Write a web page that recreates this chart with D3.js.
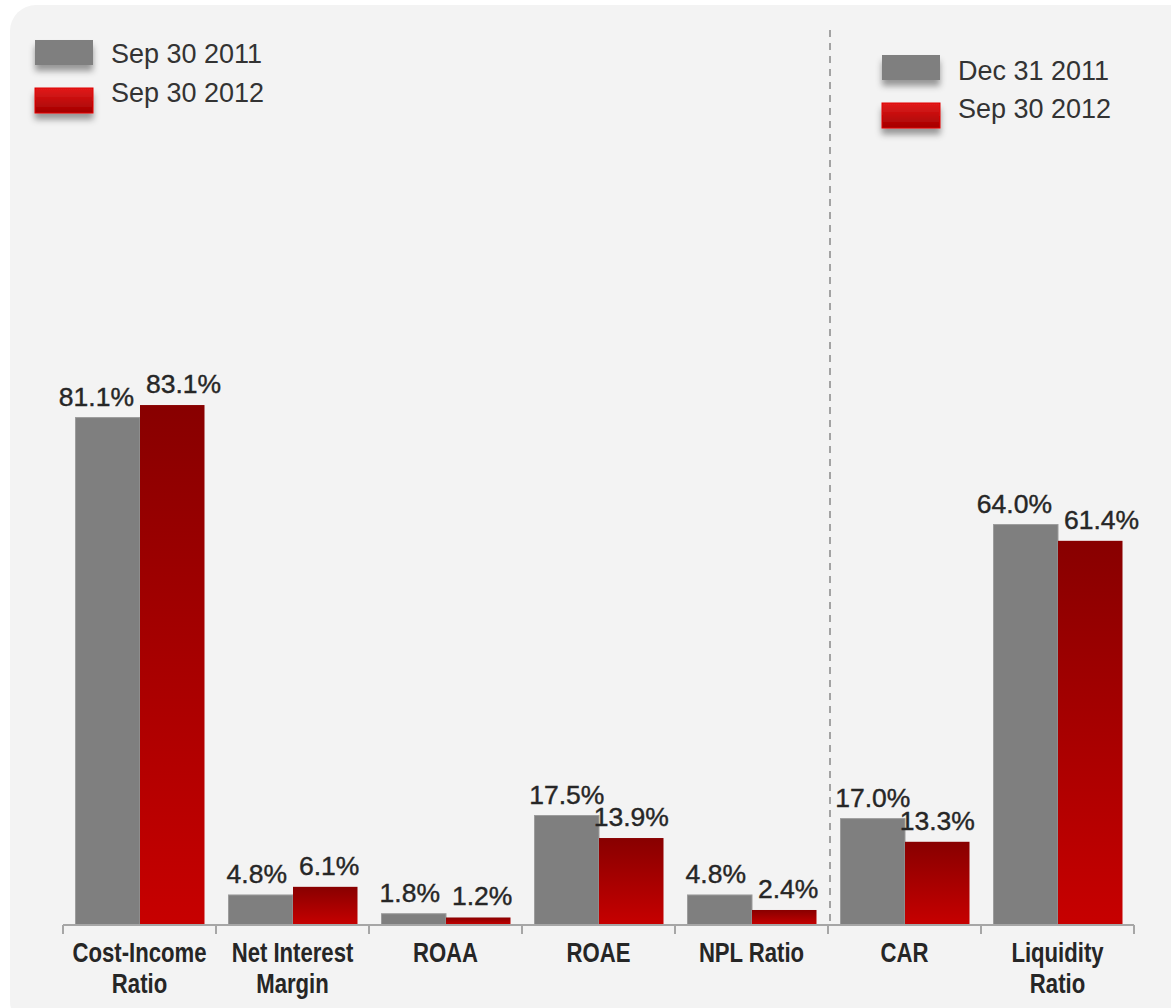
<!DOCTYPE html>
<html>
<head>
<meta charset="utf-8">
<script src="https://cdn.jsdelivr.net/npm/d3@7"></script>
<style>
  html, body { margin: 0; padding: 0; background: #ffffff; }
  svg { display: block; }
</style>
</head>
<body>
<svg id="chart" width="1171" height="1008"></svg>
<script>
// Key ratios: two snapshots per metric
const categories = ["Cost-Income Ratio", "Net Interest Margin", "ROAA", "ROAE", "NPL Ratio", "CAR", "Liquidity Ratio"];
const categoryLines = [["Cost-Income", "Ratio"], ["Net Interest", "Margin"], ["ROAA"], ["ROAE"], ["NPL Ratio"], ["CAR"], ["Liquidity", "Ratio"]];
const priorValues = [81.1, 4.8, 1.8, 17.5, 4.8, 17.0, 64.0];
const currentValues = [83.1, 6.1, 1.2, 13.9, 2.4, 13.3, 61.4];
const seriesKeys = ["prior", "current"];
const leftLegend = ["Sep 30 2011", "Sep 30 2012"];
const rightLegend = ["Dec 31 2011", "Sep 30 2012"];
const rightGroupStart = "CAR";

const svg = d3.select("#chart");
const baseY = 925;

const defs = svg.append("defs");
const barGrad = defs.append("linearGradient").attr("id", "redBar")
  .attr("x1", 0).attr("y1", 0).attr("x2", 0).attr("y2", 1);
barGrad.append("stop").attr("offset", "0%").attr("stop-color", "#880000");
barGrad.append("stop").attr("offset", "100%").attr("stop-color", "#c70000");

const swGrad = defs.append("linearGradient").attr("id", "redSwatch")
  .attr("x1", 0).attr("y1", 0).attr("x2", 0).attr("y2", 1);
swGrad.append("stop").attr("offset", "0%").attr("stop-color", "#e31b1b");
swGrad.append("stop").attr("offset", "100%").attr("stop-color", "#a30000");

const shadow = defs.append("filter").attr("id", "swShadow")
  .attr("x", "-30%").attr("y", "-30%").attr("width", "160%").attr("height", "190%");
shadow.append("feDropShadow").attr("dx", 0).attr("dy", 6).attr("stdDeviation", 3)
  .attr("flood-color", "#000").attr("flood-opacity", 0.38);

// panel
svg.append("rect").attr("x", 10).attr("y", 5).attr("width", 1185).attr("height", 1022)
  .attr("rx", 26).attr("fill", "#f3f3f3");

// scales
const x0 = d3.scaleBand().domain(categories).range([63, 1134]).padding(0);
const x1 = d3.scaleBand().domain(seriesKeys).range([12.5, 141.5]).padding(0);
const y = d3.scaleLinear().domain([0, 100]).range([baseY, baseY - 625.7]);

const rows = categories.map((c, i) => ({
  cat: c, lines: categoryLines[i],
  vals: [{ key: "prior", v: priorValues[i] }, { key: "current", v: currentValues[i] }]
}));

// separator between the two comparison groups
const sepX = x0(rightGroupStart) + 2;
svg.append("line").attr("x1", sepX).attr("x2", sepX).attr("y1", 30).attr("y2", baseY)
  .attr("stroke", "#a3a3a3").attr("stroke-width", 2).attr("stroke-dasharray", "7,6");

// bars
const groups = svg.append("g").selectAll("g").data(rows).join("g")
  .attr("transform", d => `translate(${x0(d.cat)},0)`);

groups.selectAll("rect").data(d => d.vals).join("rect")
  .attr("x", d => x1(d.key))
  .attr("y", d => y(d.v))
  .attr("width", x1.bandwidth())
  .attr("height", d => baseY - y(d.v))
  .attr("fill", d => d.key === "prior" ? "#7f7f7f" : "url(#redBar)")
  .attr("stroke", d => d.key === "prior" ? "#9c9c9c" : "none")
  .attr("stroke-width", 1);

// value labels
const labelFont = "'Liberation Sans', Arial, sans-serif";
groups.each(function (d) {
  const g = d3.select(this);
  const texts = d.vals.map(v => g.append("text")
    .attr("x", x1(v.key) + x1.bandwidth() / 2)
    .attr("y", y(v.v) - 12)
    .attr("text-anchor", "middle")
    .attr("font-family", labelFont)
    .attr("font-size", 26.5)
    .attr("fill", "#262626")
    .attr("stroke", "#262626")
    .attr("stroke-width", 0.4)
    .text(v.v.toFixed(1) + "%"));
  // push the pair apart if their labels collide
  const [a, b] = texts;
  const wa = a.node().getComputedTextLength(), wb = b.node().getComputedTextLength();
  const ca = +a.attr("x"), cb = +b.attr("x");
  const ya = +a.attr("y"), yb = +b.attr("y");
  const gap = 12;
  if (Math.abs(ya - yb) < 22 && (cb - wb / 2) - (ca + wa / 2) < gap) {
    const mid = (ca + cb) / 2;
    a.attr("x", mid - gap / 2 - wa / 2);
    b.attr("x", mid + gap / 2 + wb / 2);
  }
});

// axis
const axisG = svg.append("g");
axisG.append("line").attr("x1", x0.range()[0]).attr("x2", x0.range()[1])
  .attr("y1", baseY).attr("y2", baseY).attr("stroke", "#a6a6a6").attr("stroke-width", 2);
const tickPos = categories.map(c => x0(c)).concat([x0.range()[1]]);
axisG.selectAll("line.tick").data(tickPos).join("line").attr("class", "tick")
  .attr("x1", d => d).attr("x2", d => d).attr("y1", baseY).attr("y2", baseY + 9)
  .attr("stroke", "#a6a6a6").attr("stroke-width", 2);

// category labels: bold, horizontally condensed
const catFont = "'Liberation Sans', Arial, sans-serif";
const catLabels = svg.append("g").selectAll("text").data(rows).join("text")
  .attr("transform", d => `translate(${x0(d.cat) + x0.bandwidth() / 2},0) scale(0.79,1)`)
  .attr("text-anchor", "middle")
  .attr("font-family", catFont)
  .attr("font-weight", "bold")
  .attr("font-size", 28)
  .attr("fill", "#262626");
catLabels.selectAll("tspan").data(d => d.lines).join("tspan")
  .attr("x", 0)
  .attr("y", (d, i) => 962 + i * 31)
  .text(d => d);

// legends
function legend(labels, sx, sy, sStep, tx, ty, tStep) {
  const g = svg.append("g");
  labels.forEach((lab, i) => {
    g.append("rect").attr("x", sx).attr("y", sy + i * sStep).attr("width", 58).attr("height", 25)
      .attr("fill", i === 0 ? "#7f7f7f" : "url(#redSwatch)")
      .attr("stroke", i === 0 ? "none" : "#e00000").attr("stroke-width", 1)
      .attr("filter", "url(#swShadow)");
    g.append("text").attr("x", tx).attr("y", ty + i * tStep)
      .attr("font-family", labelFont).attr("font-size", 27).attr("fill", "#333")
      .text(lab);
  });
}
legend(leftLegend, 35, 40, 48, 111, 63, 39);
legend(rightLegend, 882, 55, 48, 958, 80, 38);
</script>
</body>
</html>
